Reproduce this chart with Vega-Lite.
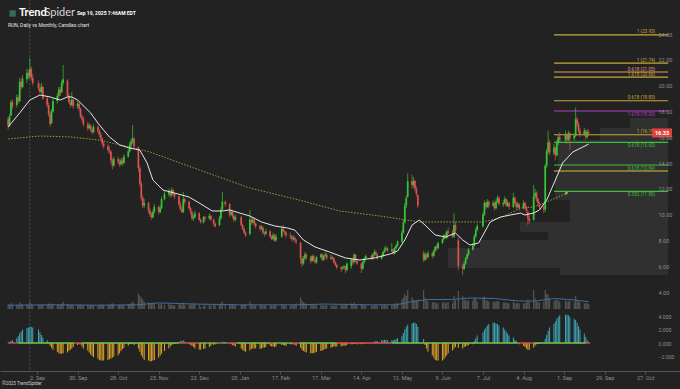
{
"$schema":"https://vega.github.io/schema/vega-lite/v6.json",
"width":680,"height":389,"autosize":{"type":"none"},"padding":0,
"background":"#222222",
"config":{"view":{"stroke":null},"axis":{"labelFont":"Roboto","grid":false}},
"datasets":{
"candles":[
{"d":"2024-08-13","o":17.4,"h":17.6,"l":16.6,"c":16.9,"v":25,"m":0.1},
{"d":"2024-08-14","o":16.9,"h":17.8,"l":16.8,"c":17.6,"v":22,"m":0.2},
{"d":"2024-08-15","o":17.7,"h":18.9,"l":17.6,"c":18.7,"v":30,"m":0.3},
{"d":"2024-08-16","o":18.7,"h":18.9,"l":18.2,"c":18.4,"v":20,"m":0.4},
{"d":"2024-08-19","o":18.5,"h":19.3,"l":18.3,"c":19.1,"v":22,"m":0.7},
{"d":"2024-08-20","o":19.1,"h":19.3,"l":18.6,"c":18.8,"v":18,"m":1.0},
{"d":"2024-08-21","o":18.8,"h":20.6,"l":18.7,"c":20.3,"v":35,"m":1.4},
{"d":"2024-08-22","o":20.3,"h":20.6,"l":19.7,"c":19.9,"v":25,"m":1.7},
{"d":"2024-08-23","o":19.9,"h":20.8,"l":19.8,"c":20.5,"v":24,"m":2.0},
{"d":"2024-08-26","o":20.5,"h":21.3,"l":20.2,"c":21.0,"v":26,"m":2.2},
{"d":"2024-08-27","o":21.0,"h":21.2,"l":20.5,"c":20.7,"v":20,"m":2.3},
{"d":"2024-08-28","o":20.7,"h":22.15,"l":20.5,"c":21.3,"v":40,"m":2.4},
{"d":"2024-08-29","o":21.3,"h":21.5,"l":20.4,"c":20.6,"v":28,"m":2.4},
{"d":"2024-08-30","o":20.6,"h":20.9,"l":20.0,"c":20.2,"v":22,"m":2.3},
{"d":"2024-09-03","o":20.2,"h":20.4,"l":19.6,"c":19.8,"v":24,"m":2.0},
{"d":"2024-09-04","o":19.8,"h":20.1,"l":19.3,"c":19.5,"v":20,"m":1.6},
{"d":"2024-09-05","o":19.5,"h":20.2,"l":19.4,"c":19.9,"v":22,"m":1.2},
{"d":"2024-09-06","o":19.9,"h":20.0,"l":18.9,"c":19.0,"v":25,"m":0.8},
{"d":"2024-09-09","o":19.0,"h":19.2,"l":18.3,"c":18.5,"v":22,"m":0.4},
{"d":"2024-09-10","o":18.5,"h":18.7,"l":17.6,"c":17.8,"v":26,"m":0.1},
{"d":"2024-09-11","o":17.8,"h":18.0,"l":16.8,"c":17.0,"v":30,"m":-0.4},
{"d":"2024-09-12","o":17.1,"h":18.2,"l":17.0,"c":18.0,"v":24,"m":-0.7},
{"d":"2024-09-13","o":18.0,"h":19.0,"l":17.9,"c":18.8,"v":26,"m":-1.0},
{"d":"2024-09-16","o":18.8,"h":19.4,"l":18.6,"c":19.2,"v":22,"m":-1.3},
{"d":"2024-09-17","o":19.2,"h":19.9,"l":19.0,"c":19.7,"v":24,"m":-1.5},
{"d":"2024-09-18","o":19.7,"h":19.9,"l":19.2,"c":19.4,"v":20,"m":-1.6},
{"d":"2024-09-19","o":19.5,"h":20.4,"l":19.4,"c":20.2,"v":28,"m":-1.6},
{"d":"2024-09-20","o":20.2,"h":21.6,"l":20.0,"c":20.5,"v":38,"m":-1.5},
{"d":"2024-09-23","o":20.4,"h":20.5,"l":19.1,"c":19.2,"v":28,"m":-1.4},
{"d":"2024-09-24","o":19.2,"h":19.4,"l":18.6,"c":18.7,"v":22,"m":-1.2},
{"d":"2024-09-25","o":18.7,"h":18.9,"l":18.3,"c":18.5,"v":20,"m":-1.0},
{"d":"2024-09-26","o":18.5,"h":19.5,"l":18.4,"c":18.9,"v":24,"m":-0.8},
{"d":"2024-09-27","o":18.9,"h":19.0,"l":18.2,"c":18.4,"v":20,"m":-0.6},
{"d":"2024-09-30","o":18.4,"h":18.8,"l":18.2,"c":18.6,"v":18,"m":-0.3},
{"d":"2024-10-01","o":18.6,"h":18.7,"l":18.0,"c":18.2,"v":22,"m":-0.2},
{"d":"2024-10-02","o":18.2,"h":18.3,"l":17.5,"c":17.6,"v":24,"m":-0.2},
{"d":"2024-10-03","o":17.6,"h":17.8,"l":17.2,"c":17.4,"v":20,"m":-0.5},
{"d":"2024-10-04","o":17.4,"h":17.6,"l":16.8,"c":17.0,"v":22,"m":-0.8},
{"d":"2024-10-07","o":17.0,"h":17.2,"l":16.5,"c":16.7,"v":22,"m":-1.1},
{"d":"2024-10-08","o":16.7,"h":17.1,"l":16.6,"c":16.9,"v":18,"m":-1.4},
{"d":"2024-10-09","o":16.9,"h":17.0,"l":16.4,"c":16.6,"v":18,"m":-1.7},
{"d":"2024-10-10","o":16.6,"h":16.8,"l":16.2,"c":16.4,"v":20,"m":-1.9},
{"d":"2024-10-11","o":16.4,"h":17.0,"l":16.3,"c":16.8,"v":20,"m":-2.1},
{"d":"2024-10-14","o":16.8,"h":16.9,"l":16.3,"c":16.5,"v":18,"m":-2.3},
{"d":"2024-10-15","o":16.5,"h":16.6,"l":16.0,"c":16.2,"v":22,"m":-2.5},
{"d":"2024-10-16","o":16.2,"h":16.4,"l":15.7,"c":15.9,"v":22,"m":-2.6},
{"d":"2024-10-17","o":15.9,"h":16.0,"l":15.3,"c":15.5,"v":24,"m":-2.6},
{"d":"2024-10-18","o":15.5,"h":15.7,"l":15.1,"c":15.3,"v":22,"m":-2.6},
{"d":"2024-10-21","o":15.3,"h":15.5,"l":14.8,"c":15.0,"v":24,"m":-2.5},
{"d":"2024-10-22","o":15.0,"h":15.3,"l":14.7,"c":14.9,"v":20,"m":-2.4},
{"d":"2024-10-23","o":14.9,"h":15.0,"l":14.0,"c":14.2,"v":28,"m":-2.3},
{"d":"2024-10-24","o":14.2,"h":14.4,"l":13.5,"c":13.8,"v":30,"m":-2.2},
{"d":"2024-10-25","o":13.8,"h":14.5,"l":13.7,"c":14.3,"v":24,"m":-2.0},
{"d":"2024-10-28","o":14.3,"h":14.5,"l":13.9,"c":14.1,"v":20,"m":-1.8},
{"d":"2024-10-29","o":14.1,"h":14.3,"l":13.7,"c":13.9,"v":22,"m":-1.5},
{"d":"2024-10-30","o":13.9,"h":14.4,"l":13.8,"c":14.2,"v":22,"m":-1.2},
{"d":"2024-10-31","o":14.2,"h":14.4,"l":13.8,"c":14.0,"v":20,"m":-0.9},
{"d":"2024-11-01","o":14.0,"h":14.7,"l":13.9,"c":14.5,"v":24,"m":-0.7},
{"d":"2024-11-04","o":14.5,"h":15.1,"l":14.4,"c":14.9,"v":26,"m":-0.4},
{"d":"2024-11-05","o":14.9,"h":15.6,"l":14.8,"c":15.4,"v":28,"m":-0.2},
{"d":"2024-11-06","o":15.4,"h":15.9,"l":15.2,"c":15.7,"v":30,"m":-0.1},
{"d":"2024-11-07","o":15.7,"h":16.95,"l":15.5,"c":15.9,"v":40,"m":-0.1},
{"d":"2024-11-08","o":15.9,"h":16.0,"l":15.1,"c":15.3,"v":30,"m":-0.3},
{"d":"2024-11-11","o":15.2,"h":15.3,"l":13.3,"c":13.6,"v":80,"m":-0.8},
{"d":"2024-11-12","o":13.6,"h":13.8,"l":12.2,"c":12.4,"v":70,"m":-1.3},
{"d":"2024-11-13","o":12.4,"h":12.6,"l":11.1,"c":11.3,"v":60,"m":-1.8},
{"d":"2024-11-14","o":11.3,"h":11.5,"l":10.5,"c":10.7,"v":50,"m":-2.2},
{"d":"2024-11-15","o":10.7,"h":11.2,"l":10.5,"c":10.9,"v":40,"m":-2.5},
{"d":"2024-11-18","o":10.9,"h":11.0,"l":10.1,"c":10.3,"v":35,"m":-2.6},
{"d":"2024-11-19","o":10.3,"h":10.5,"l":9.8,"c":10.0,"v":32,"m":-2.7},
{"d":"2024-11-20","o":10.0,"h":10.2,"l":9.6,"c":9.8,"v":30,"m":-2.7},
{"d":"2024-11-21","o":9.8,"h":10.4,"l":9.7,"c":10.2,"v":28,"m":-2.6},
{"d":"2024-11-22","o":10.2,"h":10.8,"l":10.1,"c":10.6,"v":30,"m":-2.5},
{"d":"2024-11-25","o":10.6,"h":10.7,"l":10.0,"c":10.2,"v":26,"m":-2.2},
{"d":"2024-11-26","o":10.2,"h":10.7,"l":10.1,"c":10.5,"v":24,"m":-1.9},
{"d":"2024-11-27","o":10.5,"h":11.4,"l":10.4,"c":11.2,"v":30,"m":-1.6},
{"d":"2024-11-29","o":11.2,"h":11.8,"l":11.1,"c":11.6,"v":22,"m":-1.2},
{"d":"2024-12-02","o":11.6,"h":12.0,"l":11.4,"c":11.8,"v":26,"m":-0.8},
{"d":"2024-12-03","o":11.8,"h":11.9,"l":11.3,"c":11.5,"v":22,"m":-0.5},
{"d":"2024-12-04","o":11.5,"h":12.1,"l":11.4,"c":11.9,"v":24,"m":-0.3},
{"d":"2024-12-05","o":11.9,"h":12.0,"l":11.4,"c":11.6,"v":20,"m":-0.2},
{"d":"2024-12-06","o":11.6,"h":11.7,"l":11.2,"c":11.4,"v":20,"m":-0.1},
{"d":"2024-12-09","o":11.4,"h":11.5,"l":10.6,"c":10.8,"v":26,"m":0.2},
{"d":"2024-12-10","o":10.8,"h":11.0,"l":10.3,"c":10.4,"v":24,"m":0.3},
{"d":"2024-12-11","o":10.4,"h":10.6,"l":10.1,"c":10.2,"v":22,"m":0.3},
{"d":"2024-12-12","o":10.2,"h":11.75,"l":10.1,"c":11.2,"v":34,"m":0.4},
{"d":"2024-12-13","o":11.2,"h":11.3,"l":10.8,"c":11.0,"v":22,"m":0.2},
{"d":"2024-12-16","o":11.0,"h":11.1,"l":10.4,"c":10.5,"v":22,"m":-0.1},
{"d":"2024-12-17","o":10.5,"h":10.6,"l":10.0,"c":10.2,"v":22,"m":-0.3},
{"d":"2024-12-18","o":10.2,"h":10.3,"l":9.6,"c":9.7,"v":28,"m":-0.4},
{"d":"2024-12-19","o":9.7,"h":10.0,"l":9.5,"c":9.8,"v":24,"m":-0.6},
{"d":"2024-12-20","o":9.8,"h":10.3,"l":9.7,"c":10.1,"v":30,"m":-0.8},
{"d":"2024-12-23","o":10.1,"h":10.2,"l":9.5,"c":9.6,"v":22,"m":-1.0},
{"d":"2024-12-24","o":9.6,"h":9.7,"l":9.3,"c":9.4,"v":12,"m":-1.0},
{"d":"2024-12-26","o":9.4,"h":9.9,"l":9.3,"c":9.8,"v":18,"m":-0.9},
{"d":"2024-12-27","o":9.8,"h":9.9,"l":9.5,"c":9.7,"v":18,"m":-0.8},
{"d":"2024-12-30","o":9.7,"h":10.1,"l":9.6,"c":9.9,"v":20,"m":-0.6},
{"d":"2024-12-31","o":9.9,"h":10.0,"l":9.5,"c":9.6,"v":18,"m":-0.4},
{"d":"2025-01-02","o":9.6,"h":9.7,"l":9.1,"c":9.3,"v":22,"m":-0.3},
{"d":"2025-01-03","o":9.3,"h":9.4,"l":9.0,"c":9.1,"v":20,"m":-0.2},
{"d":"2025-01-06","o":9.2,"h":9.9,"l":9.1,"c":9.7,"v":26,"m":-0.1},
{"d":"2025-01-07","o":9.7,"h":10.6,"l":9.6,"c":10.4,"v":30,"m":0.1},
{"d":"2025-01-08","o":10.4,"h":11.75,"l":10.3,"c":11.0,"v":40,"m":0.2},
{"d":"2025-01-10","o":11.0,"h":11.1,"l":10.6,"c":10.8,"v":26,"m":0.1},
{"d":"2025-01-13","o":10.8,"h":10.9,"l":9.8,"c":10.0,"v":26,"m":-0.1},
{"d":"2025-01-14","o":10.0,"h":10.4,"l":9.9,"c":10.2,"v":22,"m":-0.2},
{"d":"2025-01-15","o":10.2,"h":10.3,"l":9.7,"c":9.9,"v":22,"m":-0.3},
{"d":"2025-01-16","o":9.9,"h":10.0,"l":9.4,"c":9.6,"v":22,"m":-0.4},
{"d":"2025-01-17","o":9.6,"h":10.0,"l":9.5,"c":9.8,"v":20,"m":-0.5},
{"d":"2025-01-21","o":9.8,"h":9.9,"l":9.1,"c":9.2,"v":24,"m":-0.8},
{"d":"2025-01-22","o":9.2,"h":9.3,"l":8.8,"c":8.9,"v":22,"m":-1.0},
{"d":"2025-01-23","o":8.9,"h":9.0,"l":8.5,"c":8.6,"v":22,"m":-1.2},
{"d":"2025-01-24","o":8.6,"h":8.7,"l":8.26,"c":8.4,"v":24,"m":-1.3},
{"d":"2025-01-27","o":8.5,"h":10.36,"l":8.4,"c":9.6,"v":40,"m":-1.1},
{"d":"2025-01-28","o":9.6,"h":9.8,"l":9.2,"c":9.4,"v":24,"m":-0.9},
{"d":"2025-01-29","o":9.4,"h":9.8,"l":9.3,"c":9.6,"v":20,"m":-0.8},
{"d":"2025-01-30","o":9.6,"h":9.7,"l":9.1,"c":9.3,"v":20,"m":-0.8},
{"d":"2025-01-31","o":9.3,"h":9.4,"l":8.9,"c":9.1,"v":20,"m":-0.8},
{"d":"2025-02-03","o":9.1,"h":9.2,"l":8.7,"c":8.9,"v":22,"m":-0.9},
{"d":"2025-02-04","o":8.9,"h":9.2,"l":8.8,"c":9.0,"v":18,"m":-0.8},
{"d":"2025-02-05","o":9.0,"h":9.1,"l":8.5,"c":8.6,"v":20,"m":-0.7},
{"d":"2025-02-06","o":8.6,"h":8.7,"l":8.3,"c":8.5,"v":18,"m":-0.7},
{"d":"2025-02-07","o":8.5,"h":8.9,"l":8.4,"c":8.7,"v":18,"m":-0.6},
{"d":"2025-02-10","o":8.7,"h":8.8,"l":8.2,"c":8.3,"v":20,"m":-0.4},
{"d":"2025-02-11","o":8.3,"h":8.4,"l":8.0,"c":8.1,"v":18,"m":-0.5},
{"d":"2025-02-12","o":8.1,"h":8.6,"l":8.0,"c":8.4,"v":18,"m":-0.5},
{"d":"2025-02-13","o":8.4,"h":8.5,"l":7.9,"c":8.0,"v":20,"m":-0.6},
{"d":"2025-02-14","o":8.0,"h":8.5,"l":7.9,"c":8.3,"v":18,"m":-0.5},
{"d":"2025-02-18","o":8.3,"h":9.1,"l":8.2,"c":8.9,"v":26,"m":-0.3},
{"d":"2025-02-19","o":8.9,"h":9.2,"l":8.6,"c":8.7,"v":22,"m":-0.3},
{"d":"2025-02-20","o":8.7,"h":8.8,"l":8.4,"c":8.6,"v":18,"m":-0.4},
{"d":"2025-02-21","o":8.6,"h":8.7,"l":8.2,"c":8.4,"v":20,"m":-0.4},
{"d":"2025-02-24","o":8.4,"h":8.6,"l":8.1,"c":8.3,"v":18,"m":-0.2},
{"d":"2025-02-25","o":8.3,"h":8.4,"l":7.9,"c":8.1,"v":20,"m":-0.2},
{"d":"2025-02-26","o":8.1,"h":8.4,"l":8.0,"c":8.2,"v":18,"m":-0.2},
{"d":"2025-02-27","o":8.2,"h":8.3,"l":7.8,"c":8.0,"v":26,"m":-0.3},
{"d":"2025-02-28","o":8.0,"h":8.1,"l":7.7,"c":7.9,"v":30,"m":-0.4},
{"d":"2025-03-03","o":7.8,"h":7.9,"l":6.2,"c":6.6,"v":60,"m":-0.7},
{"d":"2025-03-04","o":6.6,"h":6.8,"l":5.94,"c":6.2,"v":45,"m":-1.0},
{"d":"2025-03-05","o":6.2,"h":6.8,"l":6.1,"c":6.6,"v":35,"m":-1.2},
{"d":"2025-03-06","o":6.6,"h":7.1,"l":6.5,"c":6.9,"v":30,"m":-1.3},
{"d":"2025-03-07","o":6.9,"h":7.0,"l":6.5,"c":6.7,"v":24,"m":-1.4},
{"d":"2025-03-10","o":6.7,"h":6.8,"l":6.2,"c":6.4,"v":26,"m":-1.5},
{"d":"2025-03-11","o":6.4,"h":6.9,"l":6.3,"c":6.8,"v":24,"m":-1.5},
{"d":"2025-03-12","o":6.8,"h":6.9,"l":6.4,"c":6.5,"v":20,"m":-1.5},
{"d":"2025-03-13","o":6.5,"h":6.6,"l":6.2,"c":6.3,"v":20,"m":-1.4},
{"d":"2025-03-14","o":6.3,"h":6.8,"l":6.2,"c":6.7,"v":22,"m":-1.3},
{"d":"2025-03-17","o":6.7,"h":7.0,"l":6.6,"c":6.9,"v":20,"m":-1.2},
{"d":"2025-03-18","o":6.9,"h":7.0,"l":6.4,"c":6.5,"v":20,"m":-1.1},
{"d":"2025-03-19","o":6.5,"h":6.9,"l":6.4,"c":6.8,"v":18,"m":-1.0},
{"d":"2025-03-20","o":6.8,"h":7.1,"l":6.7,"c":6.9,"v":18,"m":-0.9},
{"d":"2025-03-21","o":6.9,"h":7.0,"l":6.5,"c":6.6,"v":22,"m":-0.8},
{"d":"2025-03-24","o":6.6,"h":6.9,"l":6.5,"c":6.7,"v":18,"m":-0.7},
{"d":"2025-03-25","o":6.7,"h":6.8,"l":6.5,"c":6.6,"v":16,"m":-0.6},
{"d":"2025-03-26","o":6.6,"h":6.7,"l":6.2,"c":6.3,"v":18,"m":-0.5},
{"d":"2025-03-27","o":6.3,"h":6.4,"l":6.0,"c":6.1,"v":18,"m":-0.5},
{"d":"2025-03-28","o":6.1,"h":6.2,"l":5.8,"c":5.9,"v":20,"m":-0.5},
{"d":"2025-03-31","o":5.9,"h":6.0,"l":5.55,"c":5.8,"v":22,"m":-0.5},
{"d":"2025-04-01","o":5.8,"h":6.0,"l":5.7,"c":5.9,"v":20,"m":-0.4},
{"d":"2025-04-02","o":5.9,"h":6.1,"l":5.8,"c":6.0,"v":18,"m":-0.4},
{"d":"2025-04-03","o":6.0,"h":6.0,"l":5.45,"c":5.7,"v":26,"m":-0.4},
{"d":"2025-04-04","o":5.7,"h":6.3,"l":5.6,"c":6.2,"v":28,"m":-0.3},
{"d":"2025-04-07","o":6.0,"h":6.6,"l":5.8,"c":6.5,"v":30,"m":-0.2},
{"d":"2025-04-08","o":6.5,"h":6.6,"l":6.1,"c":6.3,"v":24,"m":-0.2},
{"d":"2025-04-09","o":6.3,"h":7.0,"l":6.2,"c":6.9,"v":34,"m":-0.1},
{"d":"2025-04-10","o":6.9,"h":6.9,"l":6.3,"c":6.4,"v":24,"m":-0.1},
{"d":"2025-04-11","o":6.4,"h":6.5,"l":6.1,"c":6.2,"v":20,"m":-0.2},
{"d":"2025-04-14","o":6.2,"h":6.3,"l":5.47,"c":5.8,"v":28,"m":-0.2},
{"d":"2025-04-15","o":5.8,"h":6.4,"l":5.7,"c":6.3,"v":22,"m":-0.1},
{"d":"2025-04-16","o":6.3,"h":6.7,"l":6.2,"c":6.6,"v":20,"m":-0.1},
{"d":"2025-04-17","o":6.6,"h":6.9,"l":6.5,"c":6.8,"v":18,"m":0.0},
{"d":"2025-04-21","o":6.8,"h":6.9,"l":6.5,"c":6.6,"v":16,"m":0.0},
{"d":"2025-04-22","o":6.6,"h":7.0,"l":6.5,"c":6.9,"v":18,"m":0.1},
{"d":"2025-04-23","o":6.9,"h":7.3,"l":6.8,"c":7.1,"v":22,"m":0.2},
{"d":"2025-04-24","o":7.1,"h":7.2,"l":6.8,"c":6.9,"v":18,"m":0.3},
{"d":"2025-04-25","o":6.9,"h":7.0,"l":6.5,"c":6.6,"v":18,"m":0.3},
{"d":"2025-04-28","o":6.6,"h":6.9,"l":6.5,"c":6.8,"v":18,"m":0.4},
{"d":"2025-04-29","o":6.8,"h":7.2,"l":6.7,"c":7.1,"v":20,"m":0.4},
{"d":"2025-04-30","o":7.1,"h":7.5,"l":7.0,"c":7.3,"v":22,"m":0.5},
{"d":"2025-05-01","o":7.3,"h":7.6,"l":7.2,"c":7.4,"v":20,"m":0.5},
{"d":"2025-05-02","o":7.4,"h":7.5,"l":7.1,"c":7.2,"v":18,"m":0.4},
{"d":"2025-05-05","o":7.2,"h":7.8,"l":7.1,"c":7.3,"v":20,"m":0.4},
{"d":"2025-05-06","o":7.3,"h":7.4,"l":6.9,"c":7.0,"v":20,"m":0.4},
{"d":"2025-05-07","o":7.0,"h":7.5,"l":6.9,"c":7.4,"v":30,"m":0.5},
{"d":"2025-05-08","o":7.4,"h":7.7,"l":7.3,"c":7.6,"v":28,"m":0.6},
{"d":"2025-05-09","o":7.6,"h":8.0,"l":7.5,"c":7.9,"v":32,"m":0.7},
{"d":"2025-05-12","o":7.9,"h":8.8,"l":7.8,"c":8.6,"v":50,"m":1.0},
{"d":"2025-05-13","o":8.6,"h":9.6,"l":8.5,"c":9.4,"v":60,"m":1.5},
{"d":"2025-05-14","o":9.4,"h":10.9,"l":9.3,"c":10.7,"v":80,"m":2.0},
{"d":"2025-05-15","o":10.7,"h":11.5,"l":10.5,"c":11.3,"v":70,"m":2.4},
{"d":"2025-05-16","o":11.4,"h":13.2,"l":11.3,"c":12.6,"v":100,"m":2.7},
{"d":"2025-05-19","o":12.6,"h":13.1,"l":12.0,"c":12.3,"v":60,"m":2.9},
{"d":"2025-05-20","o":12.3,"h":12.9,"l":12.1,"c":12.6,"v":50,"m":3.0},
{"d":"2025-05-21","o":12.6,"h":12.7,"l":11.8,"c":12.0,"v":45,"m":3.0},
{"d":"2025-05-22","o":12.0,"h":12.2,"l":11.4,"c":11.6,"v":45,"m":2.8},
{"d":"2025-05-23","o":11.5,"h":11.6,"l":10.5,"c":10.7,"v":50,"m":2.4},
{"d":"2025-05-27","o":7.0,"h":7.2,"l":6.3,"c":6.5,"v":100,"m":0.6},
{"d":"2025-05-28","o":6.5,"h":7.1,"l":6.4,"c":6.9,"v":60,"m":-0.3},
{"d":"2025-05-29","o":6.9,"h":7.0,"l":6.5,"c":6.7,"v":45,"m":-0.8},
{"d":"2025-05-30","o":6.7,"h":7.2,"l":6.6,"c":7.0,"v":40,"m":-1.3},
{"d":"2025-06-02","o":7.0,"h":7.1,"l":6.6,"c":6.8,"v":35,"m":-1.8},
{"d":"2025-06-03","o":6.8,"h":7.3,"l":6.7,"c":7.2,"v":35,"m":-2.2},
{"d":"2025-06-04","o":7.2,"h":7.6,"l":7.1,"c":7.5,"v":35,"m":-2.5},
{"d":"2025-06-05","o":7.5,"h":7.7,"l":7.2,"c":7.4,"v":30,"m":-2.6},
{"d":"2025-06-06","o":7.4,"h":7.9,"l":7.3,"c":7.8,"v":32,"m":-2.6},
{"d":"2025-06-09","o":7.8,"h":8.2,"l":7.7,"c":8.1,"v":34,"m":-2.6},
{"d":"2025-06-10","o":8.1,"h":8.5,"l":8.0,"c":8.4,"v":36,"m":-2.4},
{"d":"2025-06-11","o":8.4,"h":8.6,"l":8.1,"c":8.2,"v":30,"m":-2.1},
{"d":"2025-06-12","o":8.2,"h":8.8,"l":8.1,"c":8.7,"v":34,"m":-1.8},
{"d":"2025-06-13","o":8.7,"h":9.0,"l":8.5,"c":8.6,"v":36,"m":-1.5},
{"d":"2025-06-16","o":8.6,"h":8.8,"l":8.2,"c":8.3,"v":30,"m":-1.1},
{"d":"2025-06-17","o":8.3,"h":10.1,"l":8.2,"c":9.2,"v":70,"m":-0.8},
{"d":"2025-06-18","o":9.2,"h":9.4,"l":8.6,"c":8.8,"v":45,"m":-0.6},
{"d":"2025-06-20","o":8.0,"h":8.2,"l":5.7,"c":6.0,"v":95,"m":-0.7},
{"d":"2025-06-23","o":6.0,"h":6.2,"l":5.3,"c":5.8,"v":70,"m":-0.8},
{"d":"2025-06-24","o":5.8,"h":6.4,"l":5.7,"c":6.2,"v":50,"m":-0.6},
{"d":"2025-06-25","o":6.2,"h":6.7,"l":6.1,"c":6.6,"v":45,"m":-0.5},
{"d":"2025-06-26","o":6.6,"h":7.0,"l":6.5,"c":6.9,"v":45,"m":-0.4},
{"d":"2025-06-27","o":6.9,"h":7.4,"l":6.8,"c":7.3,"v":45,"m":-0.3},
{"d":"2025-06-30","o":7.3,"h":7.8,"l":7.2,"c":7.6,"v":45,"m":-0.2},
{"d":"2025-07-01","o":7.6,"h":8.5,"l":7.5,"c":8.3,"v":60,"m":0.3},
{"d":"2025-07-02","o":8.3,"h":9.0,"l":8.2,"c":8.8,"v":55,"m":0.7},
{"d":"2025-07-03","o":8.8,"h":9.3,"l":8.7,"c":9.1,"v":40,"m":1.1},
{"d":"2025-07-07","o":9.1,"h":10.2,"l":9.0,"c":10.0,"v":60,"m":1.6},
{"d":"2025-07-08","o":10.0,"h":11.1,"l":9.9,"c":10.9,"v":65,"m":2.0},
{"d":"2025-07-09","o":10.9,"h":11.0,"l":10.4,"c":10.6,"v":45,"m":2.3},
{"d":"2025-07-10","o":10.6,"h":11.2,"l":10.5,"c":11.0,"v":45,"m":2.6},
{"d":"2025-07-11","o":11.0,"h":11.1,"l":10.5,"c":10.7,"v":40,"m":2.8},
{"d":"2025-07-14","o":10.7,"h":11.1,"l":10.6,"c":10.9,"v":38,"m":3.0},
{"d":"2025-07-15","o":10.9,"h":11.0,"l":10.3,"c":10.5,"v":38,"m":3.0},
{"d":"2025-07-16","o":10.5,"h":11.2,"l":10.4,"c":11.0,"v":40,"m":2.9},
{"d":"2025-07-17","o":11.0,"h":11.5,"l":10.9,"c":11.3,"v":42,"m":2.8},
{"d":"2025-07-18","o":11.3,"h":11.4,"l":10.7,"c":10.8,"v":38,"m":2.6},
{"d":"2025-07-21","o":10.8,"h":11.1,"l":10.6,"c":10.9,"v":34,"m":2.3},
{"d":"2025-07-22","o":10.9,"h":11.4,"l":10.8,"c":11.2,"v":36,"m":2.0},
{"d":"2025-07-23","o":11.2,"h":11.3,"l":10.6,"c":10.7,"v":34,"m":1.7},
{"d":"2025-07-24","o":10.7,"h":11.1,"l":10.6,"c":10.9,"v":32,"m":1.4},
{"d":"2025-07-25","o":10.9,"h":11.0,"l":10.4,"c":10.6,"v":30,"m":1.1},
{"d":"2025-07-28","o":10.6,"h":11.7,"l":10.5,"c":11.3,"v":40,"m":0.8},
{"d":"2025-07-29","o":11.3,"h":11.4,"l":10.8,"c":10.9,"v":32,"m":0.5},
{"d":"2025-07-30","o":10.9,"h":11.0,"l":10.4,"c":10.6,"v":30,"m":0.3},
{"d":"2025-07-31","o":10.6,"h":11.0,"l":10.5,"c":10.8,"v":30,"m":0.1},
{"d":"2025-08-01","o":10.8,"h":10.9,"l":10.3,"c":10.5,"v":30,"m":-0.2},
{"d":"2025-08-04","o":10.5,"h":11.1,"l":10.4,"c":10.9,"v":30,"m":-0.4},
{"d":"2025-08-05","o":10.9,"h":11.0,"l":10.4,"c":10.6,"v":30,"m":-0.6},
{"d":"2025-08-06","o":10.6,"h":10.7,"l":10.1,"c":10.3,"v":35,"m":-0.8},
{"d":"2025-08-07","o":10.2,"h":10.3,"l":9.2,"c":9.7,"v":50,"m":-1.0},
{"d":"2025-08-08","o":9.7,"h":9.9,"l":9.3,"c":9.5,"v":40,"m":-1.0},
{"d":"2025-08-11","o":9.6,"h":12.3,"l":9.5,"c":11.4,"v":100,"m":-0.7},
{"d":"2025-08-12","o":11.4,"h":12.0,"l":11.2,"c":11.7,"v":55,"m":-0.4},
{"d":"2025-08-13","o":11.7,"h":11.8,"l":11.0,"c":11.2,"v":40,"m":-0.2},
{"d":"2025-08-14","o":11.2,"h":11.3,"l":10.7,"c":10.9,"v":35,"m":-0.1},
{"d":"2025-08-15","o":10.9,"h":11.0,"l":10.4,"c":10.6,"v":35,"m":-0.1},
{"d":"2025-08-18","o":10.6,"h":10.7,"l":10.1,"c":10.4,"v":40,"m":0.1},
{"d":"2025-08-19","o":10.4,"h":13.9,"l":10.2,"c":13.8,"v":100,"m":0.6},
{"d":"2025-08-20","o":13.8,"h":15.1,"l":13.6,"c":14.9,"v":80,"m":1.2},
{"d":"2025-08-21","o":14.9,"h":16.5,"l":14.7,"c":15.6,"v":75,"m":1.8},
{"d":"2025-08-22","o":15.6,"h":15.8,"l":14.6,"c":14.8,"v":55,"m":2.3},
{"d":"2025-08-25","o":14.8,"h":15.5,"l":14.6,"c":15.2,"v":45,"m":2.8},
{"d":"2025-08-26","o":15.2,"h":15.3,"l":14.2,"c":14.6,"v":45,"m":3.2},
{"d":"2025-08-27","o":14.6,"h":15.8,"l":14.5,"c":15.6,"v":50,"m":3.6},
{"d":"2025-08-28","o":15.6,"h":16.2,"l":15.4,"c":16.0,"v":45,"m":3.9},
{"d":"2025-08-29","o":16.0,"h":16.4,"l":15.6,"c":15.8,"v":40,"m":4.1},
{"d":"2025-09-02","o":15.8,"h":16.5,"l":15.6,"c":16.2,"v":45,"m":4.2},
{"d":"2025-09-03","o":16.2,"h":16.3,"l":15.5,"c":15.8,"v":40,"m":4.2},
{"d":"2025-09-04","o":15.8,"h":16.5,"l":15.7,"c":16.3,"v":40,"m":4.1},
{"d":"2025-09-05","o":16.3,"h":16.4,"l":15.0,"c":15.9,"v":45,"m":3.9},
{"d":"2025-09-08","o":15.9,"h":16.3,"l":15.7,"c":16.1,"v":35,"m":3.6},
{"d":"2025-09-09","o":16.1,"h":18.3,"l":16.0,"c":17.4,"v":70,"m":3.4},
{"d":"2025-09-10","o":17.4,"h":17.6,"l":16.8,"c":17.0,"v":45,"m":3.0},
{"d":"2025-09-11","o":17.0,"h":17.2,"l":16.3,"c":16.5,"v":40,"m":2.5},
{"d":"2025-09-12","o":16.5,"h":16.7,"l":16.0,"c":16.2,"v":35,"m":2.0},
{"d":"2025-09-15","o":16.2,"h":16.7,"l":16.1,"c":16.5,"v":30,"m":1.4},
{"d":"2025-09-16","o":16.5,"h":16.6,"l":15.8,"c":16.0,"v":30,"m":0.9},
{"d":"2025-09-17","o":16.0,"h":16.6,"l":15.9,"c":16.4,"v":30,"m":0.4},
{"d":"2025-09-18","o":16.4,"h":16.6,"l":16.1,"c":16.33,"v":25,"m":0.1}
],
"ma20":[
{"d":"2024-08-13","p":16.79},{"d":"2024-08-21","p":17.88},{"d":"2024-08-28","p":18.88},{"d":"2024-09-04","p":19.27},{"d":"2024-09-11","p":19.12},{"d":"2024-09-18","p":18.88},{"d":"2024-09-23","p":19.12},{"d":"2024-09-26","p":19.12},{"d":"2024-09-30","p":18.88},{"d":"2024-10-09","p":17.88},{"d":"2024-10-15","p":16.95},{"d":"2024-10-22","p":16.02},{"d":"2024-10-29","p":15.4},{"d":"2024-11-05","p":15.16},{"d":"2024-11-12","p":15.0},{"d":"2024-11-17","p":14.0},{"d":"2024-11-21","p":12.68},{"d":"2024-11-28","p":11.9},{"d":"2024-12-06","p":11.67},{"d":"2024-12-16","p":11.36},{"d":"2024-12-23","p":10.9},{"d":"2025-01-01","p":10.28},{"d":"2025-01-08","p":10.28},{"d":"2025-01-13","p":10.36},{"d":"2025-01-20","p":10.12},{"d":"2025-01-27","p":9.89},{"d":"2025-02-04","p":9.43},{"d":"2025-02-13","p":9.12},{"d":"2025-02-22","p":8.96},{"d":"2025-02-27","p":8.8},{"d":"2025-03-05","p":8.03},{"d":"2025-03-13","p":7.49},{"d":"2025-03-23","p":7.1},{"d":"2025-04-03","p":6.64},{"d":"2025-04-13","p":6.48},{"d":"2025-04-23","p":6.64},{"d":"2025-05-04","p":6.95},{"d":"2025-05-09","p":7.18},{"d":"2025-05-14","p":8.03},{"d":"2025-05-19","p":9.19},{"d":"2025-05-24","p":9.58},{"d":"2025-05-28","p":9.19},{"d":"2025-06-04","p":8.42},{"d":"2025-06-11","p":8.26},{"d":"2025-06-18","p":8.57},{"d":"2025-06-23","p":8.03},{"d":"2025-06-28","p":7.64},{"d":"2025-07-04","p":7.8},{"d":"2025-07-12","p":9.43},{"d":"2025-07-19","p":9.81},{"d":"2025-07-26","p":9.97},{"d":"2025-08-02","p":10.12},{"d":"2025-08-05","p":9.97},{"d":"2025-08-11","p":10.12},{"d":"2025-08-15","p":10.36},{"d":"2025-08-20","p":11.13},{"d":"2025-08-26","p":12.68},{"d":"2025-08-31","p":14.0},{"d":"2025-09-07","p":14.85},{"d":"2025-09-14","p":15.24},{"d":"2025-09-18","p":15.47}
],
"ma200":[
{"d":"2024-08-13","p":15.86},{"d":"2024-09-04","p":16.09},{"d":"2024-09-25","p":16.02},{"d":"2024-10-15","p":15.78},{"d":"2024-11-19","p":14.85},{"d":"2024-12-23","p":13.46},{"d":"2025-01-27","p":12.06},{"d":"2025-03-02","p":11.13},{"d":"2025-03-30","p":10.28},{"d":"2025-04-27","p":9.89},{"d":"2025-05-24","p":9.43},{"d":"2025-06-21","p":9.43},{"d":"2025-07-07","p":9.43},{"d":"2025-07-19","p":9.74},{"d":"2025-08-02","p":10.51},{"d":"2025-08-11","p":10.59},{"d":"2025-08-20","p":10.98},{"d":"2025-09-03","p":11.67}
],
"volma":[
{"d":"2024-08-13","v":20},{"d":"2024-09-15","v":22},{"d":"2024-10-15","v":20},{"d":"2024-11-10","v":22},{"d":"2024-11-25","v":32},{"d":"2024-12-20","v":26},{"d":"2025-01-20","v":22},{"d":"2025-03-01","v":22},{"d":"2025-03-20","v":26},{"d":"2025-04-20","v":22},{"d":"2025-05-08","v":22},{"d":"2025-05-20","v":40},{"d":"2025-05-30","v":50},{"d":"2025-06-15","v":50},{"d":"2025-06-28","v":58},{"d":"2025-07-15","v":55},{"d":"2025-08-01","v":42},{"d":"2025-08-12","v":42},{"d":"2025-08-25","v":55},{"d":"2025-09-05","v":50},{"d":"2025-09-18","v":38}
],
"fib":[
{"d":"2025-08-25T02:00:00Z","d2":"2025-11-11T22:00:00Z","p":23.93,"lab":"1 (23.93)","k":"gold"},
{"d":"2025-08-25T02:00:00Z","d2":"2025-11-11T22:00:00Z","p":21.74,"lab":"1 (21.74)","k":"gold"},
{"d":"2025-08-25T02:00:00Z","d2":"2025-11-11T22:00:00Z","p":21.05,"lab":"0.618 (21.05)","k":"orange"},
{"d":"2025-08-25T02:00:00Z","d2":"2025-11-11T22:00:00Z","p":20.66,"lab":"1.618 (20.66)","k":"gold"},
{"d":"2025-08-25T02:00:00Z","d2":"2025-11-11T22:00:00Z","p":18.83,"lab":"0.618 (18.83)","k":"gold"},
{"d":"2025-08-25T02:00:00Z","d2":"2025-11-11T22:00:00Z","p":18.03,"lab":"1.618 (18.03)","k":"magenta"},
{"d":"2025-08-25T02:00:00Z","d2":"2025-11-11T22:00:00Z","p":16.19,"lab":"1 (16.19)","k":"gold"},
{"d":"2025-08-25T02:00:00Z","d2":"2025-11-11T22:00:00Z","p":15.6,"lab":"0.618 (15.60)","k":"green"},
{"d":"2025-08-25T02:00:00Z","d2":"2025-11-11T22:00:00Z","p":13.84,"lab":"0.618 (13.84)","k":"green"},
{"d":"2025-08-25T02:00:00Z","d2":"2025-11-11T22:00:00Z","p":13.38,"lab":"","k":"yellow"},
{"d":"2025-08-25T02:00:00Z","d2":"2025-11-11T22:00:00Z","p":11.8,"lab":"0.382 (11.80)","k":"green"}
],
"prof":[
{"lo":16.71,"hi":17.49,"vol":38},{"lo":15.78,"hi":16.71,"vol":68},{"lo":12.99,"hi":15.78,"vol":110},{"lo":11.13,"hi":12.99,"vol":113},{"lo":9.43,"hi":11.13,"vol":98},{"lo":8.65,"hi":9.43,"vol":148},{"lo":8.03,"hi":8.65,"vol":120},{"lo":7.41,"hi":8.03,"vol":188},{"lo":5.86,"hi":7.41,"vol":220},{"lo":5.32,"hi":5.86,"vol":108}
],
"zl":[
{"d":"2024-08-13","d2":"2024-08-20","s":"dn"},{"d":"2024-08-20","d2":"2024-09-28","s":"up"},{"d":"2024-09-28","d2":"2024-10-03","s":"dn"},{"d":"2024-10-03","d2":"2024-12-09","s":"up"},{"d":"2024-12-09","d2":"2024-12-23","s":"dn"},{"d":"2024-12-23","d2":"2025-01-05","s":"up"},{"d":"2025-01-05","d2":"2025-01-08","s":"dn"},{"d":"2025-01-08","d2":"2025-01-11","s":"up"},{"d":"2025-01-11","d2":"2025-01-18","s":"dn"},{"d":"2025-01-18","d2":"2025-02-10","s":"up"},{"d":"2025-02-10","d2":"2025-02-12","s":"dn"},{"d":"2025-02-12","d2":"2025-02-25","s":"up"},{"d":"2025-02-25","d2":"2025-03-02","s":"dn"},{"d":"2025-03-02","d2":"2025-03-28","s":"up"},{"d":"2025-03-28","d2":"2025-05-05","s":"dn"},{"d":"2025-05-05","d2":"2025-07-31","s":"up"},{"d":"2025-07-31","d2":"2025-08-11","s":"dn"},{"d":"2025-08-11","d2":"2025-09-16","s":"up"},{"d":"2025-09-16","d2":"2025-09-19","s":"dn"}
]
},
"layer":[
{"data":{"name":"prof"},"mark":{"type":"bar","color":"#303030"},
 "encoding":{"x":{"field":"vol","type":"quantitative","scale":{"domain":[0,220],"range":[668,448],"nice":false,"zero":false,"padding":0},"axis":null},"x2":{"datum":0},
 "y":{"field":"lo","type":"quantitative","scale":{"domain":[4,24],"range":[292,34],"nice":false,"zero":false},"axis":null},"y2":{"field":"hi"}}},
{"encoding":{"x":{"field":"d","type":"temporal","scale":{"domain":[1723023360000,1763604000000],"nice":false,"padding":0},
   "axis":{"orient":"bottom","offset":-18,"title":null,"grid":false,"format":"%-d. %b","labelOverlap":false,"labelColor":"#8e8e8e","labelFontSize":5.5,"tickSize":3,"tickColor":"#555555","domainColor":"#555555","labelPadding":1.5,"zindex":1,
   "values":[1725235200000,1727654400000,1730073600000,1732492800000,1734912000000,1737331200000,1739750400000,1742169600000,1744588800000,1747008000000,1749427200000,1751846400000,1754265600000,1756684800000,1759104000000,1761523200000]}}},
 "resolve":{"scale":{"y":"independent","color":"independent"}},
 "layer":[
  {"data":{"values":[{"d":"2024-08-28"}]},"mark":{"type":"rule","color":"#5c5c5c","strokeDash":[2,2],"strokeWidth":0.8},
   "encoding":{"y":{"datum":26.7,"type":"quantitative","scale":{"domain":[4,24],"range":[292,34],"nice":false,"zero":false},"axis":null},"y2":{"datum":-2.1}}},
  {"data":{"name":"ma200"},"mark":{"type":"line","color":"#8aa63c","strokeDash":[1.5,1.5],"strokeWidth":1},
   "encoding":{"y":{"field":"p","type":"quantitative","scale":{"domain":[4,24],"range":[292,34],"nice":false,"zero":false},"axis":null}}},
  {"data":{"values":[{"d":"2025-09-03","p":11.67}]},"mark":{"type":"point","shape":"triangle-right","filled":true,"size":14,"color":"#7fd34a","opacity":1},
   "encoding":{"y":{"field":"p","type":"quantitative","scale":{"domain":[4,24],"range":[292,34],"nice":false,"zero":false},"axis":null}}},
  {"data":{"name":"fib"},"mark":{"type":"rule","strokeWidth":1.1},
   "encoding":{"x2":{"field":"d2"},
    "y":{"field":"p","type":"quantitative","scale":{"domain":[4,24],"range":[292,34],"nice":false,"zero":false},"axis":null},
    "color":{"field":"k","type":"nominal","scale":{"domain":["gold","orange","magenta","green","yellow"],"range":["#c9a935","#e09a6a","#b43cc4","#3fbf3f","#d6bf3a"]},"legend":null}}},
  {"data":{"name":"fib"},"transform":[{"filter":"datum.k=='gold'||datum.k=='orange'"}],"mark":{"type":"text","align":"right","baseline":"bottom","dy":-0.5,"dx":-13,"fontSize":4.6,"font":"Roboto"},
   "encoding":{"x":{"field":"d2","type":"temporal","scale":{"domain":[1723023360000,1763604000000],"nice":false,"padding":0}},
    "y":{"field":"p","type":"quantitative","scale":{"domain":[4,24],"range":[292,34],"nice":false,"zero":false},"axis":null},"text":{"field":"lab"},
    "color":{"field":"k","type":"nominal","scale":{"domain":["gold","orange","magenta","green","yellow"],"range":["#c9a935","#e09a6a","#b43cc4","#3fbf3f","#d6bf3a"]},"legend":null}}},
  {"data":{"name":"fib"},"transform":[{"filter":"datum.k=='green'||datum.k=='magenta'"}],"mark":{"type":"text","align":"right","baseline":"top","dy":1,"dx":-13,"fontSize":4.6,"font":"Roboto"},
   "encoding":{"x":{"field":"d2","type":"temporal","scale":{"domain":[1723023360000,1763604000000],"nice":false,"padding":0}},
    "y":{"field":"p","type":"quantitative","scale":{"domain":[4,24],"range":[292,34],"nice":false,"zero":false},"axis":null},"text":{"field":"lab"},
    "color":{"field":"k","type":"nominal","scale":{"domain":["gold","orange","magenta","green","yellow"],"range":["#c9a935","#e09a6a","#b43cc4","#3fbf3f","#d6bf3a"]},"legend":null}}},
  {"data":{"name":"candles"},"mark":{"type":"rule","strokeWidth":0.7},
   "encoding":{"y":{"field":"l","type":"quantitative","scale":{"domain":[4,24],"range":[292,34],"nice":false,"zero":false},
      "axis":{"orient":"right","offset":-22,"values":[4,6,8,10,12,14,16,18,20,22,24],"format":".2f","domain":false,"ticks":false,"labelPadding":0,"labelAlign":"left","title":null,"grid":false,"labelColor":"#8e8e8e","labelFontSize":5.5,"zindex":1}},
    "y2":{"field":"h"},
    "color":{"condition":[{"test":"datum.d=='2025-08-18'||datum.d=='2025-08-19'","value":"#f0e03c"},{"test":"datum.c>=datum.o","value":"#34c934"}],"value":"#d9534f"}}},
  {"data":{"name":"candles"},"mark":{"type":"rule","strokeWidth":1.7,"strokeCap":"butt"},
   "encoding":{"y":{"field":"o","type":"quantitative","scale":{"domain":[4,24],"range":[292,34],"nice":false,"zero":false},"axis":null},
    "y2":{"field":"c"},
    "color":{"condition":[{"test":"datum.d=='2025-08-18'||datum.d=='2025-08-19'","value":"#f0e03c"},{"test":"datum.c>=datum.o","value":"#34c934"}],"value":"#d9534f"}}},
  {"data":{"name":"ma20"},"mark":{"type":"line","color":"#e6e6e6","strokeWidth":1},
   "encoding":{"y":{"field":"p","type":"quantitative","scale":{"domain":[4,24],"range":[292,34],"nice":false,"zero":false},"axis":null}}},
  {"data":{"values":[{"d":"2025-10-31T19:00:00Z","d2":"2025-11-14T14:00:00Z"}]},"mark":{"type":"bar","color":"#e0413c"},
   "encoding":{"x2":{"field":"d2"},
    "y":{"datum":16.68,"type":"quantitative","scale":{"domain":[4,24],"range":[292,34],"nice":false,"zero":false},"axis":null},"y2":{"datum":15.98}}},
  {"data":{"values":[{"d":"2025-10-31T19:00:00Z","p":16.33,"t":"16.33"}]},"mark":{"type":"text","color":"#ffffff","fontSize":5.5,"fontWeight":"bold","align":"center","baseline":"middle","dx":10,"font":"Roboto"},
   "encoding":{"y":{"field":"p","type":"quantitative","scale":{"domain":[4,24],"range":[292,34],"nice":false,"zero":false},"axis":null},"text":{"field":"t"}}},
  {"data":{"values":[{"d":"2024-08-16T03:00:00Z","p":25.59}]},"mark":{"type":"point","shape":"square","filled":true,"size":40,"color":"#3d6b52","opacity":1},
   "encoding":{"y":{"field":"p","type":"quantitative","scale":{"domain":[4,24],"range":[292,34],"nice":false,"zero":false},"axis":null}}},
  {"data":{"values":[{"d":"2024-08-20T12:00:00Z","p":25.59,"t":"Trend"}]},"mark":{"type":"text","font":"Lato","fontWeight":"bold","fontSize":11,"color":"#ffffff","align":"left","baseline":"middle"},
   "encoding":{"y":{"field":"p","type":"quantitative","scale":{"domain":[4,24],"range":[292,34],"nice":false,"zero":false},"axis":null},"text":{"field":"t"}}},
  {"data":{"values":[{"d":"2024-09-07T02:00:00Z","p":25.59,"t":"Spider"}]},"mark":{"type":"text","font":"Lato","fontSize":11,"color":"#d8d8d8","align":"left","baseline":"middle"},
   "encoding":{"y":{"field":"p","type":"quantitative","scale":{"domain":[4,24],"range":[292,34],"nice":false,"zero":false},"axis":null},"text":{"field":"t"}}},
  {"data":{"values":[{"d":"2024-09-29T14:00:00Z","p":25.59,"t":"Sep 19, 2025 7:46AM EDT"}]},"mark":{"type":"text","font":"Roboto","fontSize":5,"fontWeight":"bold","color":"#ffffff","align":"left","baseline":"middle"},
   "encoding":{"y":{"field":"p","type":"quantitative","scale":{"domain":[4,24],"range":[292,34],"nice":false,"zero":false},"axis":null},"text":{"field":"t"}}},
  {"data":{"values":[{"d":"2024-08-12T22:00:00Z","p":24.7,"t":"RUN, Daily vs Monthly, Candles chart"}]},"mark":{"type":"text","font":"Roboto","fontSize":5,"color":"#e6e6e6","align":"left","baseline":"middle"},
   "encoding":{"y":{"field":"p","type":"quantitative","scale":{"domain":[4,24],"range":[292,34],"nice":false,"zero":false},"axis":null},"text":{"field":"t"}}},
  {"data":{"values":[{"d":"2024-08-08T19:00:00Z","p":-3.13,"t":"©2025 TrendSpider"}]},"mark":{"type":"text","font":"Roboto","fontSize":4.6,"color":"#cccccc","align":"left","baseline":"middle"},
   "encoding":{"y":{"field":"p","type":"quantitative","scale":{"domain":[4,24],"range":[292,34],"nice":false,"zero":false},"axis":null},"text":{"field":"t"}}},
  {"data":{"name":"candles"},"mark":{"type":"bar","color":"#5e5e5e","size":1.2,"opacity":0.85},
   "encoding":{"y":{"field":"v","type":"quantitative","scale":{"domain":[0,100],"range":[309,290],"nice":false},"axis":null}}},
  {"data":{"name":"volma"},"mark":{"type":"line","color":"#3b6fa0","strokeWidth":1},
   "encoding":{"y":{"field":"v","type":"quantitative","scale":{"domain":[0,100],"range":[309,290],"nice":false},"axis":null}}},
  {"data":{"name":"candles"},"mark":{"type":"bar","size":1},
   "encoding":{"y":{"field":"m","type":"quantitative","scale":{"domain":[-2,4],"range":[356.5,316],"nice":false},
     "axis":{"orient":"right","offset":-22,"values":[-2,0,2,4],"format":".3f","domain":false,"ticks":false,"labelPadding":0,"labelAlign":"left","title":null,"grid":false,"labelColor":"#8e8e8e","labelFontSize":5.2,"zindex":1}},
    "color":{"condition":{"test":"datum.m>=0","value":"#3ea8b8"},"value":"#e0a526"}}},
  {"data":{"name":"zl"},"mark":{"type":"rule","strokeWidth":1.3},
   "encoding":{"x2":{"field":"d2"},"y":{"datum":0,"type":"quantitative","scale":{"domain":[-2,4],"range":[356.5,316],"nice":false},"axis":null},
    "color":{"field":"s","type":"nominal","scale":{"domain":["up","dn"],"range":["#74c94e","#e0544f"]},"legend":null}}}
 ]}
],
"resolve":{"scale":{"x":"independent","y":"independent"}}
}
